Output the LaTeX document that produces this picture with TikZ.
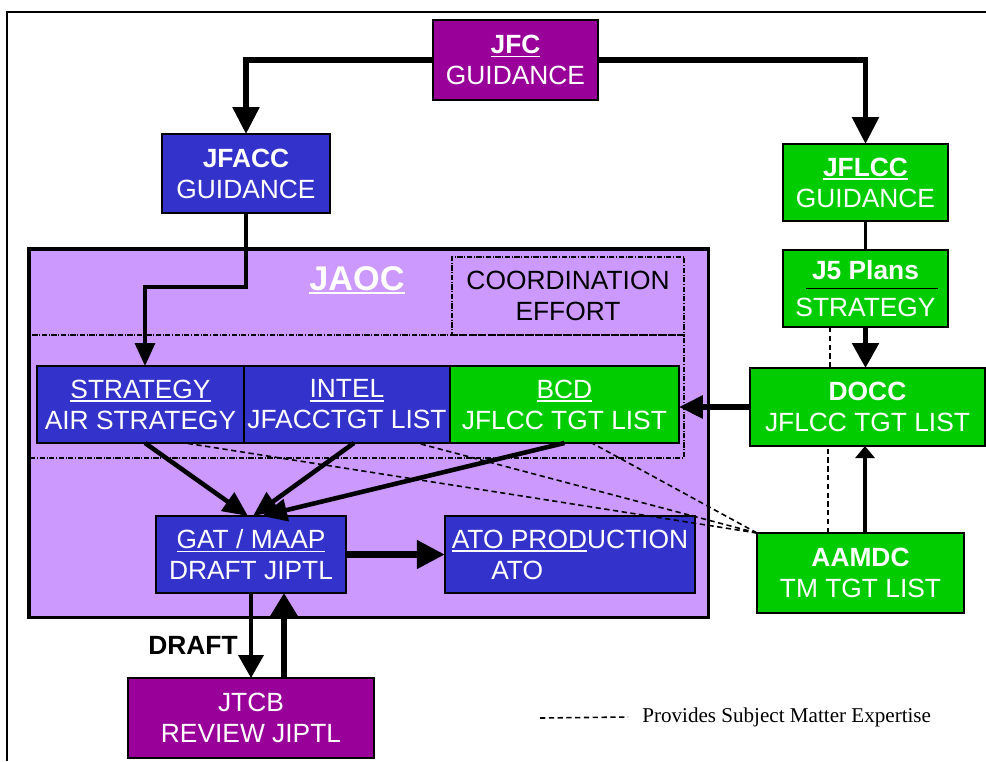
\documentclass[tikz,border=0pt]{standalone}
\usepackage{fontspec}
\setmainfont{Liberation Sans}
\newfontfamily\legendfont{Liberation Serif}
\usepackage{tikz}
\usetikzlibrary{arrows.meta, positioning}
\definecolor{jfcpurple}{HTML}{990099}
\definecolor{airblue}{HTML}{3333CC}
\definecolor{landgreen}{HTML}{00CC00}
\definecolor{jaocfill}{HTML}{CC99FF}
\newcommand{\boxfont}{\fontsize{15}{17.6}\selectfont}
\newsavebox{\ulinebox}
\newcommand{\ulinetext}[1]{\sbox{\ulinebox}{#1}\rlap{\rule[-2.2pt]{\wd\ulinebox}{1pt}}\usebox{\ulinebox}}
\tikzset{
    box/.style={rectangle, draw, line width=1pt, outer sep=0pt, inner sep=0pt, text=white, align=center, font=\boxfont},
    cmdbox/.style={box, fill=jfcpurple},
    airbox/.style={box, fill=airblue},
    landbox/.style={box, fill=landgreen},
    coordbox/.style={draw, densely dash dot, line width=0.8pt},
    guide/.style={line width=3.2pt, -{Triangle[length=0.54cm, width=0.52cm]}},
    feed/.style={line width=2.6pt, -{Triangle[length=0.5cm, width=0.44cm]}},
    link/.style={line width=1.7pt},
    sme/.style={dash pattern=on 3pt off 2pt, line width=0.9pt}
}
\begin{document}
\begin{tikzpicture}[x=0.02cm, y=-0.02cm]
    \useasboundingbox (0,0) rectangle (986,761);
    \draw[line width=1.4pt] (986,12) -- (7,12) -- (7,761);

    % JAOC area
    \node (jaoc) [draw, line width=2pt, fill=jaocfill, minimum width=13.6cm, minimum height=7.38cm, anchor=north west] at (27,247) {};
    \node (jaoctitle) [font=\fontsize{19.5}{22}\selectfont\bfseries, text=white] at (357,280) {\ulinetext{JAOC}};
    \node (coord) [coordbox, minimum width=4.64cm, minimum height=1.56cm, align=center, font=\boxfont] at (568,296) {COORDINATION\\EFFORT};
    \node (effort) [coordbox, minimum width=13.08cm, minimum height=2.46cm] at (357,396.5) {};

    \node (strat) [airbox, minimum width=4.14cm, minimum height=1.54cm] at (140.5,404.5) {\ulinetext{STRATEGY}\\AIR STRATEGY};
    \node (intel) [airbox, minimum width=4.12cm, minimum height=1.54cm, right=0pt of strat] {\ulinetext{INTEL}\\JFACCTGT LIST};
    \node (bcd) [landbox, minimum width=4.58cm, minimum height=1.54cm, right=0pt of intel] {\ulinetext{BCD}\\JFLCC TGT LIST};

    \node (gat) [airbox, minimum width=3.8cm, minimum height=1.54cm] at (251,554.5) {\ulinetext{GAT / MAAP}\\DRAFT JIPTL};
    \node (ato) [airbox, minimum width=5cm, minimum height=1.54cm, right=1.98cm of gat, align=left] {\ulinetext{ATO PROD}UCTION\\\hspace*{1.5em}ATO};
    \node (jtcb) [cmdbox, minimum width=4.92cm, minimum height=1.6cm] at (251,718) {JTCB\\REVIEW JIPTL};

    % Guidance row
    \node (jfc) [cmdbox, minimum width=3.3cm, minimum height=1.6cm] at (515.5,60) {\ulinetext{\textbf{JFC}}\\GUIDANCE};
    \node (jfacc) [airbox, minimum width=3.36cm, minimum height=1.58cm] at (246,173.5) {\textbf{JFACC}\\GUIDANCE};
    \node (jflcc) [landbox, minimum width=3.3cm, minimum height=1.54cm] at (865.5,182.5) {\ulinetext{\textbf{JFLCC}}\\GUIDANCE};

    % Land column
    \node (jfive) [landbox, minimum width=3.3cm, minimum height=1.54cm] at (865.5,288.5) {\textbf{J5 Plans}\\[3pt]STRATEGY};
    \draw[line width=1.1pt] ([xshift=-1.19cm]jfive.center) -- ([xshift=1.45cm]jfive.center);
    \node (docc) [landbox, minimum width=4.7cm, minimum height=1.56cm] at (867.5,407) {\textbf{DOCC}\\JFLCC TGT LIST};
    \node (aamdc) [landbox, minimum width=4.14cm, minimum height=1.6cm] at (860.5,573) {\textbf{AAMDC}\\TM TGT LIST};

    \draw[guide] (jfc.west) -| (jfacc.north);
    \draw[guide] (jfc.east) -| (jflcc.north);
    \draw[line width=1.9pt, -{Triangle[length=0.46cm, width=0.4cm]}] (jfacc.south) -- ++(0,74) -| ([xshift=0.09cm]strat.north);

    \draw[feed] ([xshift=0.09cm]strat.south) -- ([xshift=-0.06cm]gat.north);
    \draw[feed] ([xshift=0.14cm]intel.south) -- ([xshift=0.04cm]gat.north);
    \draw[feed] (bcd.south) -- ([xshift=0.22cm]gat.north);
    \draw[line width=4.5pt, -{Triangle[length=0.56cm, width=0.54cm]}] (gat.east) -- (ato.west);
    \draw[line width=2.1pt, -{Triangle[length=0.46cm, width=0.5cm]}] (gat.south) -- (jtcb.north);
    \draw[line width=3.2pt, -{Triangle[length=0.46cm, width=0.52cm]}] ([xshift=0.66cm]jtcb.north) -- ([xshift=0.66cm]gat.south);
    \node (draft) [font=\boxfont\bfseries] at (193,645) {DRAFT};

    \draw[link] (jflcc.south) -- (jfive.north);
    \draw[line width=3.2pt, -{Triangle[length=0.5cm, width=0.52cm]}] (jfive.south) -- (jfive.south |- docc.north);
    \draw[line width=3.2pt, -{Triangle[length=0.48cm, width=0.44cm]}] (docc.west) -- (docc.west -| bcd.east);
    \draw[line width=2pt, -{Triangle[length=0.24cm, width=0.38cm]}] ([xshift=0.09cm]aamdc.north) -- ([xshift=0.09cm]aamdc.north |- docc.south);

    % subject matter expertise
    \draw[sme] ([xshift=-0.65cm]aamdc.north) -- ([xshift=-0.65cm]aamdc.north |- docc.south);
    \draw[sme] ([xshift=-0.71cm]jfive.south) -- ([xshift=-0.71cm]jfive.south |- docc.north);
    \draw[sme] (aamdc.north west) -- ([xshift=0.89cm]strat.south);
    \draw[sme] (aamdc.north west) -- ([xshift=1.4cm]intel.south);
    \draw[sme] (aamdc.north west) -- ([xshift=0.55cm]bcd.south);

    \coordinate (legstart) at (540,718);
    \node (legend) [anchor=west, font=\legendfont\fontsize{12}{14}\selectfont, inner sep=0pt] at (642,717) {Provides Subject Matter Expertise};
    \draw[sme] (legstart) -- ([xshift=-0.28cm]legend.west);
\end{tikzpicture}
\end{document}
